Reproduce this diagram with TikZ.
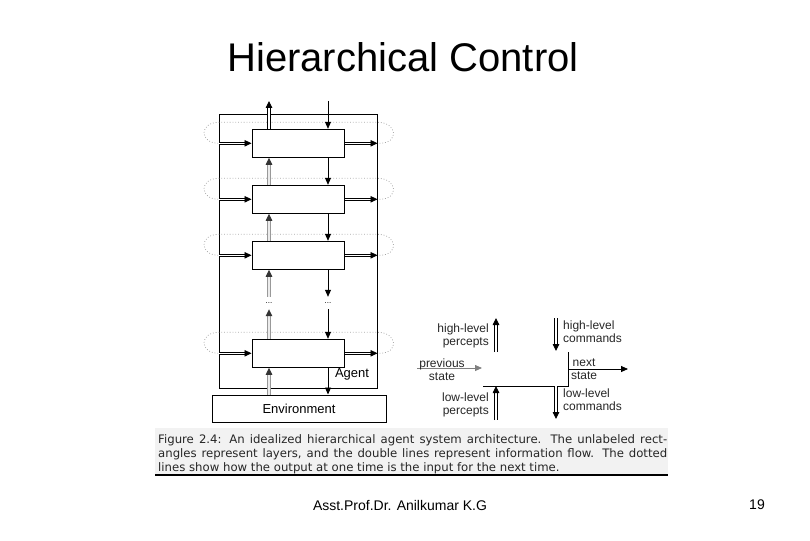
\documentclass[tikz,border=0pt]{standalone}
\usepackage{fontspec}
\setmainfont{Liberation Sans}
\newfontfamily\capfont{DejaVu Sans}
\usetikzlibrary{arrows.meta, positioning, calc}
\tikzstyle{layer} = [draw, line width=1pt, fill=white, rectangle, minimum width=92pt, minimum height=28pt, inner sep=0pt]
\tikzstyle{flow} = [draw=black, double=white, double distance=1.4pt, line width=0.9pt, -{Triangle[length=7pt,width=6.5pt,color=black]}]
\tikzstyle{upflow} = [draw=gray!80, double=gray!15, double distance=1.4pt, line width=1pt, -{Triangle[length=7pt,width=6.5pt,color=black!80]}]
\tikzstyle{cmd} = [draw, line width=0.8pt, -{Triangle[length=7pt,width=6pt]}]
\tikzstyle{feedback} = [draw=gray!70, dotted, line width=0.8pt]
\tikzstyle{lbl} = [font=\fontsize{12}{13}\selectfont, text=black!85, inner sep=0pt]

\begin{document}
\begin{tikzpicture}[x=1pt, y=-1pt, font=\fontsize{13}{15}\selectfont]
    \useasboundingbox (0,0) rectangle (810,540);

    % Slide title
    \node[anchor=base, font=\fontsize{40}{48}\selectfont] (title) at (403,72) {Hierarchical Control};

    % Agent and Environment boxes
    \node[draw, line width=1pt, minimum width=157.5pt, minimum height=273pt, inner sep=0pt] (agent) at (298.25,251.5) {};
    \node (agentlbl) at (352,374) {Agent};
    \node[draw, line width=1pt, minimum width=174pt, minimum height=27pt, inner sep=0pt] (env) at (299,408.5) {Environment};

    % Layers
    \node[layer] (L1) at (298,143.3) {};
    \node[layer] (L2) at (298,199.3) {};
    \node[layer] (L3) at (298,255.3) {};
    \node[layer] (L4) at (298,353.3) {};
    \node[font=\fontsize{8}{8}\selectfont, inner sep=0pt, minimum height=12pt] (dotsU) at (269,303) {...};
    \node[font=\fontsize{8}{8}\selectfont, inner sep=0pt, minimum height=12pt] (dotsD) at (328,303) {...};
    \coordinate (upout) at (269,101);
    \coordinate (downin) at (328,101);

    % Dotted loops: output at one time is input for the next
    \foreach \lay in {L1,L2,L3,L4} {
        \draw[feedback] ($(agent.east |- \lay)+(2,0)$) .. controls +(20,0) and +(20,0) .. ($(agent.east |- \lay)+(0,-21)$)
            -- ($(agent.west |- \lay)+(0,-21)$) .. controls +(-20,0) and +(-20,0) .. (agent.west |- \lay);
        \draw[flow] (agent.west |- \lay) -- (\lay.west);
        \draw[flow] (\lay.east) -- (agent.east |- \lay);
    }

    % Percepts going up
    \draw[flow] (L1.north -| upout) -- (upout);
    \draw[upflow] (L2.north -| upout) -- (L1.south -| upout);
    \draw[upflow] (L3.north -| upout) -- (L2.south -| upout);
    \draw[upflow] (dotsU.north) -- (L3.south -| upout);
    \draw[upflow] (L4.north -| upout) -- (dotsU.south);
    \draw[upflow] (env.north -| upout) -- (L4.south -| upout);

    % Commands going down
    \draw[cmd] (downin) -- (L1.north -| downin);
    \draw[cmd] (L1.south -| downin) -- (L2.north -| downin);
    \draw[cmd] (L2.south -| downin) -- (L3.north -| downin);
    \draw[cmd] (L3.south -| downin) -- (dotsD.north);
    \draw[cmd] (dotsD.south) -- (L4.north -| downin);
    \draw[cmd] (L4.south -| downin) -- (env.north -| downin);

    % Legend: one layer
    \coordinate (hpS) at (496,352);
    \coordinate (hpE) at (496,318);
    \coordinate (hcS) at (556,318);
    \coordinate (hcE) at (556,351);
    \coordinate (lpS) at (496,420);
    \coordinate (lcE) at (556,419);
    \coordinate (stepL) at (483,386);
    \coordinate (stepC) at (568,386);
    \coordinate (stepT) at (568,352);
    \coordinate (prevS) at (417,368);
    \coordinate (prevE) at (482,368);
    \coordinate (nextE) at (628,369);

    \draw[line width=0.8pt] (stepL) -- (stepC) -- (stepT);
    \draw[flow] (hpS) -- (hpE);
    \draw[flow] (hcS) -- (hcE);
    \draw[flow] (lpS) -- (lpS |- stepL);
    \draw[flow] (lcE |- stepL) -- (lcE);
    \draw[cmd, draw=gray] (prevS) -- (prevE);
    \draw[cmd] (stepC |- nextE) -- (nextE);

    \node[lbl, align=right, anchor=east] (hp) at (489,336) {high-level\\percepts};
    \node[lbl, align=left, anchor=west] (hc) at (563,332) {high-level\\commands};
    \node[lbl, align=center] (prev) at (442,370) {previous\\state};
    \node[lbl, align=center] (next) at (584,369) {next\\state};
    \node[lbl, align=right, anchor=east] (lp) at (489,404.5) {low-level\\percepts};
    \node[lbl, align=left, anchor=west] (lc) at (563,400) {low-level\\commands};

    % Figure caption
    \fill[gray!10] (155,428) rectangle (668,475);
    \draw[line width=1.2pt] (155,475) -- (668,475);
    \node[anchor=north west, inner sep=0pt, text width=509pt, align=justify, text=black!85, font=\capfont\fontsize{11.7}{14}\selectfont] (caption) at (158,434)
        {\hyphenpenalty=10000 Figure 2.4: An idealized hierarchical agent system architecture. The unlabeled rect-\linebreak angles represent layers, and the double lines represent information flow. The dotted\linebreak lines show how the output at one time is the input for the next time.};

    % Footer
    \node[font=\fontsize{14}{16}\selectfont] (author) at (400,505) {Asst.Prof.Dr. Anilkumar K.G};
    \node[font=\fontsize{14}{16}\selectfont] (page) at (757,505) {19};
\end{tikzpicture}
\end{document}
